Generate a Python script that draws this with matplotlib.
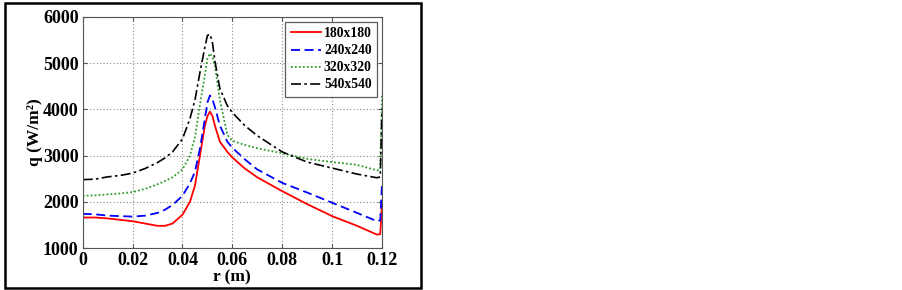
import matplotlib
matplotlib.use("Agg")
import matplotlib.pyplot as plt
from matplotlib.patches import Rectangle

plt.rcParams['font.family'] = ['Liberation Serif', 'DejaVu Serif']
plt.rcParams['font.weight'] = 'bold'

# radial positions (m)
r = [0, 0.005, 0.01, 0.015, 0.02, 0.025, 0.03, 0.033, 0.036, 0.04, 0.043, 0.045,
     0.047, 0.049, 0.050, 0.051, 0.052, 0.053, 0.055, 0.058, 0.06, 0.065, 0.07, 0.08,
     0.09, 0.1, 0.11, 0.118, 0.1193, 0.12]

q_180 = [1660, 1660, 1640, 1610, 1580, 1530, 1480, 1480, 1530, 1720, 2000, 2350,
         3000, 3650, 3850, 3950, 3860, 3650, 3300, 3080, 2960, 2720, 2530, 2230,
         1950, 1690, 1480, 1290, 1300, 1950]
q_240 = [1740, 1730, 1700, 1690, 1680, 1700, 1760, 1830, 1930, 2130, 2400, 2650,
         3150, 3800, 4150, 4300, 4220, 4050, 3650, 3300, 3170, 2920, 2700, 2410,
         2200, 1980, 1760, 1580, 1600, 2400]
q_320 = [2130, 2140, 2160, 2180, 2210, 2280, 2380, 2450, 2530, 2700, 3000, 3400,
         4100, 4750, 5100, 5210, 5130, 4950, 4200, 3450, 3320, 3230, 3160, 3050,
         2930, 2860, 2800, 2680, 2700, 4300]
q_540 = [2480, 2490, 2540, 2570, 2620, 2720, 2850, 2950, 3080, 3360, 3800, 4200,
         4800, 5350, 5600, 5630, 5450, 5050, 4450, 4080, 3930, 3650, 3430, 3080,
         2860, 2730, 2600, 2520, 2540, 4000]

labels = ['180x180', '240x240', '320x320', '540x540']

fig = plt.figure(figsize=(9.02, 2.90), dpi=100)
ax = fig.add_axes([0.0917, 0.1448, 0.3318, 0.7966])

ax.plot(r, q_180, color='#ff0000', lw=1.3, label=labels[0])
ax.plot(r, q_240, color='#0000ff', lw=1.3, dashes=(5, 2.5), label=labels[1])
ax.plot(r, q_320, color='#2e9a2e', lw=1.3, linestyle=(0, (1, 1.2)), label=labels[2])
ax.plot(r, q_540, color='black', lw=1.2, dashes=(6, 2, 1.5, 2), label=labels[3])

ax.set_xlim(0, 0.12)
ax.set_ylim(1000, 6000)
ax.set_xticks([0, 0.02, 0.04, 0.06, 0.08, 0.1, 0.12])
ax.set_xticklabels(['0', '0.02', '0.04', '0.06', '0.08', '0.1', '0.12'])
ax.set_yticks([1000, 2000, 3000, 4000, 5000, 6000])
ax.grid(True, color='#888888', linestyle=(0, (1, 2)), lw=0.8)
ax.tick_params(direction='in', length=3, labelsize=13, top=True, right=True,
               color='#555555', pad=3)
for s in ax.spines.values():
    s.set_color('#555555')
    s.set_linewidth(0.8)

ax.set_xlabel('r (m)', fontsize=12.5, fontweight='bold', labelpad=0)
ax.set_ylabel('q (W/m²)', fontsize=12.5, fontweight='bold', labelpad=0)

leg = ax.legend(loc='upper right', fontsize=9.8, frameon=True, fancybox=False,
                handlelength=2.2, handletextpad=0.25, borderpad=0.4,
                labelspacing=0.3, borderaxespad=0.35)
leg.get_frame().set_edgecolor('#333333')
leg.get_frame().set_linewidth(0.9)

# outer frame around the figure area
fig.patches.append(Rectangle((0.0055, 0.0069), 0.4612, 0.9828, transform=fig.transFigure,
                             fill=False, edgecolor='black', lw=1.8))

fig.savefig('out.png', dpi=100)
